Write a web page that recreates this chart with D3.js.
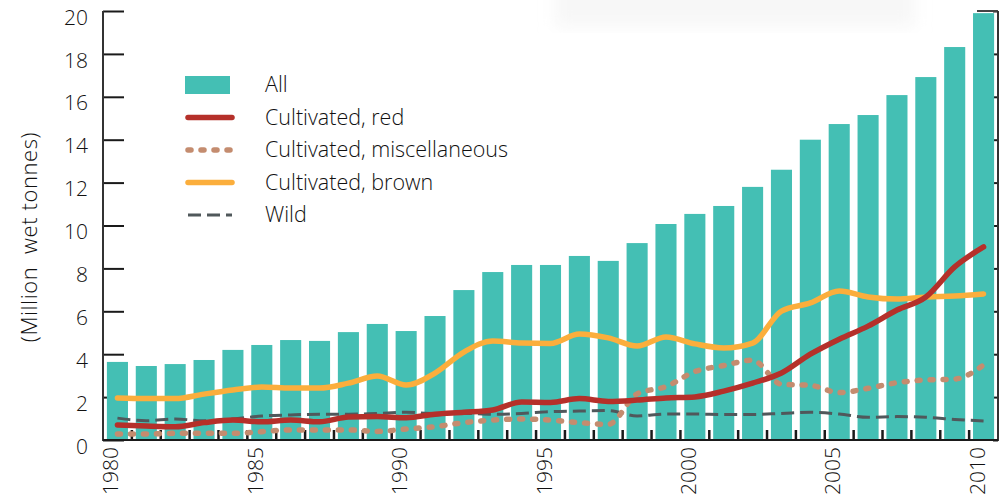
<!DOCTYPE html>
<html>
<head>
<meta charset="utf-8">
<script src="https://cdn.jsdelivr.net/npm/d3@7"></script>
<style>
  body { margin: 0; background: #fff; }
  text { font-family: "Open Sans", "Noto Sans", sans-serif; fill: #111; font-weight: 300; }
</style>
</head>
<body>
<div id="chart"></div>
<script>
// Anos e séries (milhões de toneladas úmidas)
const years = d3.range(1980, 2011);
const allValues = [3.64, 3.45, 3.54, 3.73, 4.20, 4.43, 4.66, 4.62, 5.03, 5.41, 5.08, 5.78, 6.99, 7.83, 8.16, 8.16,
  8.58, 8.35, 9.18, 10.07, 10.54, 10.91, 11.80, 12.60, 14.00, 14.73, 15.15, 16.08, 16.92, 18.32, 19.90];
const redValues = [0.70, 0.65, 0.62, 0.81, 0.93, 0.85, 0.93, 0.85, 1.07, 1.09, 1.04, 1.20, 1.29, 1.40, 1.77, 1.75,
  1.93, 1.80, 1.86, 1.96, 2.01, 2.28, 2.65, 3.12, 4.00, 4.70, 5.31, 6.06, 6.67, 8.07, 9.00];
const miscValues = [0.28, 0.28, 0.31, 0.31, 0.31, 0.39, 0.47, 0.47, 0.47, 0.40, 0.51, 0.62, 0.81, 0.93, 0.98, 0.93,
  0.81, 0.73, 2.15, 2.49, 3.19, 3.47, 3.72, 2.60, 2.55, 2.21, 2.41, 2.67, 2.80, 2.84, 3.50];
const brownValues = [1.96, 1.93, 1.93, 2.14, 2.33, 2.47, 2.42, 2.42, 2.65, 2.98, 2.56, 3.12, 4.10, 4.62, 4.52, 4.50,
  4.94, 4.76, 4.38, 4.80, 4.48, 4.29, 4.52, 6.01, 6.39, 6.95, 6.67, 6.57, 6.67, 6.71, 6.81];
const wildValues = [1.02, 0.90, 0.98, 0.90, 0.98, 1.12, 1.17, 1.20, 1.20, 1.24, 1.29, 1.24, 1.24, 1.20, 1.24, 1.32,
  1.35, 1.37, 1.12, 1.21, 1.21, 1.19, 1.19, 1.24, 1.29, 1.21, 1.06, 1.09, 1.06, 0.96, 0.89];
const yTicks = d3.range(0, 21, 2);
const yearLabels = [1980, 1985, 1990, 1995, 2000, 2005, 2010];

const series = [
  { name: "Wild", values: wildValues, color: "#50585b", width: 3, dash: "13 6", cap: "butt" },
  { name: "Cultivated, miscellaneous", values: miscValues, color: "#c48c6f", width: 5.5, dash: "3 10", cap: "round" },
  { name: "Cultivated, brown", values: brownValues, color: "#fbae3c", width: 5.5, dash: null, cap: "round" },
  { name: "Cultivated, red", values: redValues, color: "#b5302a", width: 5.5, dash: null, cap: "round" },
];
const legendItems = [
  { name: "All", type: "bar" },
  { name: "Cultivated, red" },
  { name: "Cultivated, miscellaneous" },
  { name: "Cultivated, brown" },
  { name: "Wild" },
];
const barColor = "#44bfb4";

const width = 1005, height = 502;
const plotLeft = 103, plotRight = 998, plotTop = 11, plotBottom = 440;

const svg = d3.select("#chart").append("svg")
  .attr("width", width).attr("height", height);

// sombra clara no topo
const defs = svg.append("defs");
defs.append("filter").attr("id", "blur")
  .append("feGaussianBlur").attr("stdDeviation", 8);
svg.append("rect").attr("x", 555).attr("y", -25).attr("width", 360).attr("height", 52)
  .attr("fill", "#f7f7f7").attr("filter", "url(#blur)");

const x = d3.scaleBand().domain(years).range([plotLeft, plotRight])
  .paddingInner(0.27).paddingOuter(0.135);
const y = d3.scaleLinear().domain([0, 20]).range([plotBottom, plotTop]);

// Eixos
const axisColor = "#1a1a1a";
const yAxis = svg.append("g").attr("transform", `translate(${plotLeft},0)`)
  .call(d3.axisRight(y).tickValues(yTicks).tickSize(21).tickFormat(""));
yAxis.select(".domain").remove();
yAxis.selectAll("line").attr("stroke", axisColor).attr("stroke-width", 2);

const yAxisR = svg.append("g").attr("transform", `translate(${plotRight},0)`)
  .call(d3.axisLeft(y).tickValues(yTicks).tickSize(5).tickFormat(""));
yAxisR.select(".domain").remove();
yAxisR.selectAll("line").attr("stroke", axisColor).attr("stroke-width", 2);
svg.append("line").attr("x1", 977).attr("x2", plotRight).attr("y1", y(20)).attr("y2", y(20))
  .attr("stroke", "#444").attr("stroke-width", 2);

// Barras
svg.append("g").selectAll("rect")
  .data(years)
  .enter()
  .append("rect")
  .attr("x", (d) => x(d))
  .attr("y", (d, i) => y(allValues[i]))
  .attr("width", x.bandwidth())
  .attr("height", (d, i) => y(0) - y(allValues[i]))
  .attr("fill", barColor);

// Ticks do eixo x (entre barras)
const gap = x.step() - x.bandwidth();
svg.append("g").selectAll("line")
  .data(years.slice(0, -1))
  .enter()
  .append("line")
  .attr("x1", (d) => x(d) + x.bandwidth() + gap / 2)
  .attr("x2", (d) => x(d) + x.bandwidth() + gap / 2)
  .attr("y1", plotBottom - 10)
  .attr("y2", plotBottom)
  .attr("stroke", axisColor)
  .attr("stroke-width", 2.5);

// Linhas dos eixos
svg.append("line").attr("x1", plotLeft).attr("x2", plotLeft).attr("y1", plotTop).attr("y2", plotBottom + 1)
  .attr("stroke", "#333").attr("stroke-width", 2);
svg.append("line").attr("x1", plotRight).attr("x2", plotRight).attr("y1", plotTop).attr("y2", plotBottom + 1)
  .attr("stroke", "#333").attr("stroke-width", 2);
svg.append("line").attr("x1", plotLeft).attr("x2", plotRight).attr("y1", plotBottom).attr("y2", plotBottom)
  .attr("stroke", axisColor).attr("stroke-width", 2);

// Séries de linhas
const cx = (d) => x(d) + x.bandwidth() / 2;
series.forEach((s) => {
  const line = d3.line()
    .x((d, i) => cx(years[i]))
    .y((d) => y(d))
    .curve(d3.curveMonotoneX);
  svg.append("path")
    .datum(s.values)
    .attr("d", line)
    .attr("fill", "none")
    .attr("stroke", s.color)
    .attr("stroke-width", s.width)
    .attr("stroke-linecap", s.cap)
    .attr("stroke-linejoin", "round")
    .attr("stroke-dasharray", s.dash);
});

// Rótulos do eixo y
svg.append("g").selectAll("text")
  .data(yTicks)
  .enter()
  .append("text")
  .attr("x", 88)
  .attr("y", (d) => y(d) + 8)
  .attr("dominant-baseline", "middle")
  .attr("text-anchor", "end")
  .attr("font-size", "21px")
  .text((d) => d);

// Rótulos do eixo x
svg.append("g").selectAll("text")
  .data(yearLabels)
  .enter()
  .append("text")
  .attr("transform", (d) => `translate(${cx(d) + 1},${plotBottom + 7}) rotate(-90)`)
  .attr("text-anchor", "end")
  .attr("font-size", "21px")
  .text((d) => d);

// Título do eixo y
svg.append("text")
  .attr("transform", `translate(37,237) rotate(-90)`)
  .attr("text-anchor", "middle")
  .attr("font-size", "22px")
  .attr("letter-spacing", "0.6px")
  .attr("xml:space", "preserve")
  .style("white-space", "pre")
  .text("(Million  wet tonnes)");

// Legenda
const legend = svg.append("g").attr("transform", "translate(185,85)");
legendItems.forEach((d, i) => {
  const g = legend.append("g").attr("transform", `translate(0, ${i * 32.5})`);
  if (d.type === "bar") {
    g.append("rect").attr("x", 0).attr("y", -9).attr("width", 45).attr("height", 18)
      .attr("fill", barColor);
  } else {
    const s = series.find((e) => e.name === d.name);
    g.append("line").attr("x1", 3).attr("x2", 47).attr("y1", 0).attr("y2", 0)
      .attr("stroke", s.color)
      .attr("stroke-width", s.width)
      .attr("stroke-linecap", s.cap)
      .attr("stroke-dasharray", s.dash);
  }
  g.append("text")
    .attr("x", 80)
    .attr("y", 7)
    .attr("font-size", "21.5px")
    .text(d.name);
});
</script>
</body>
</html>
